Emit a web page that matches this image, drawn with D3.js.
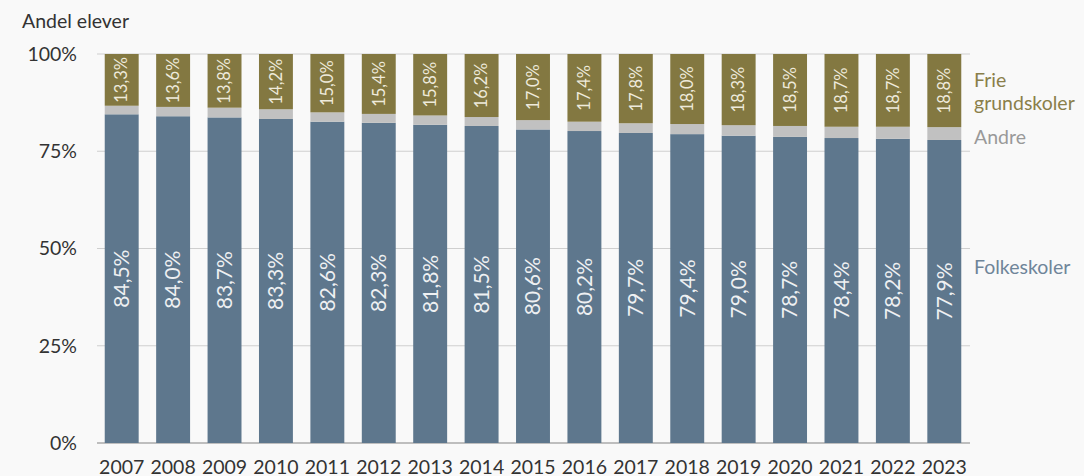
<html>
<head>
<meta charset="utf-8">
<style>
  body { margin: 0; background: #f9f9f9; }
  svg { font-family: Lato, "Noto Sans", sans-serif; }
</style>
</head>
<body>
<svg id="chart" width="1084" height="476"></svg>
<script src="https://cdn.jsdelivr.net/npm/d3@7"></script>
<script>
const years = ['2007','2008','2009','2010','2011','2012','2013','2014','2015','2016','2017','2018','2019','2020','2021','2022','2023']
const folkeskoler = [84.5, 84.0, 83.7, 83.3, 82.6, 82.3, 81.8, 81.5, 80.6, 80.2, 79.7, 79.4, 79.0, 78.7, 78.4, 78.2, 77.9]
const frie = [13.3, 13.6, 13.8, 14.2, 15.0, 15.4, 15.8, 16.2, 17.0, 17.4, 17.8, 18.0, 18.3, 18.5, 18.7, 18.7, 18.8]
const yTicks = [0, 25, 50, 75, 100]

const colors = { folke: '#5e778d', andre: '#c1c1c1', frie: '#837841' }

const svg = d3.select('#chart')

const x = d3.scaleBand().domain(years).range([96, 970]).paddingInner(0.34).paddingOuter(0.17)
const y = d3.scaleLinear().domain([0, 100]).range([443, 54])

const fmt = v => v.toFixed(1).replace('.', ',') + '%'

// gridlines
svg.append('g').selectAll('line').data(yTicks).enter()
  .append('line')
    .attr('x1', 97).attr('x2', 970)
    .attr('y1', d => y(d)).attr('y2', d => y(d))
    .attr('stroke', d => d === 0 ? '#aaa' : '#cfcfcf')
    .attr('stroke-width', d => d === 0 ? 1.5 : 1)

// y labels
svg.append('g').selectAll('text').data(yTicks).enter()
  .append('text')
    .attr('x', 77).attr('y', d => y(d))
    .attr('dy', '0.35em')
    .attr('text-anchor', 'end')
    .attr('fill', '#333')
    .style('font-size', '19.5px')
    .text(d => d + '%')

svg.append('text')
  .attr('x', 22).attr('y', 28)
  .attr('fill', '#333')
  .style('font-size', '19.5px')
  .text('Andel elever')

const data = years.map((yr, i) => ({ year: yr, folke: folkeskoler[i], frie: frie[i], andre: 100 - folkeskoler[i] - frie[i] }))

const bars = svg.append('g').selectAll('g').data(data).enter().append('g')

bars.append('rect')
  .attr('x', d => x(d.year)).attr('width', x.bandwidth())
  .attr('y', d => y(d.folke)).attr('height', d => y(0) - y(d.folke))
  .attr('fill', colors.folke)
bars.append('rect')
  .attr('x', d => x(d.year)).attr('width', x.bandwidth())
  .attr('y', d => y(d.folke + d.andre)).attr('height', d => y(d.folke) - y(d.folke + d.andre))
  .attr('fill', colors.andre)
bars.append('rect')
  .attr('x', d => x(d.year)).attr('width', x.bandwidth())
  .attr('y', y(100)).attr('height', d => y(100 - d.frie) - y(100))
  .attr('fill', colors.frie)

// value labels, rotated
bars.append('text')
  .attr('transform', d => `translate(${x(d.year) + x.bandwidth() / 2},${y(d.folke / 2)}) rotate(-90)`)
  .attr('text-anchor', 'middle').attr('dy', '0.35em')
  .attr('fill', '#eef0f2')
  .style('font-size', '21px')
  .text(d => fmt(d.folke))
bars.append('text')
  .attr('transform', d => `translate(${x(d.year) + x.bandwidth() / 2},${y(100 - d.frie / 2)}) rotate(-90)`)
  .attr('text-anchor', 'middle').attr('dy', '0.35em')
  .attr('fill', '#eeeadb')
  .style('font-size', '16.5px')
  .text(d => fmt(d.frie))

// year labels
svg.append('g').selectAll('text').data(years).enter()
  .append('text')
    .attr('x', d => x(d) + x.bandwidth() / 2).attr('y', 474)
    .attr('text-anchor', 'middle')
    .attr('fill', '#333')
    .style('font-size', '19.5px')
    .text(d => d)

// series labels on the right
const legend = svg.append('g').style('font-size', '19.5px')
legend.append('text').attr('x', 974).attr('y', 87).attr('fill', '#8a7f4a').text('Frie')
legend.append('text').attr('x', 974).attr('y', 110).attr('fill', '#8a7f4a').text('grundskoler')
legend.append('text').attr('x', 974).attr('y', 144).attr('fill', '#999').text('Andre')
legend.append('text').attr('x', 974).attr('y', 274).attr('fill', '#6f8599').text('Folkeskoler')
</script>
</body>
</html>
